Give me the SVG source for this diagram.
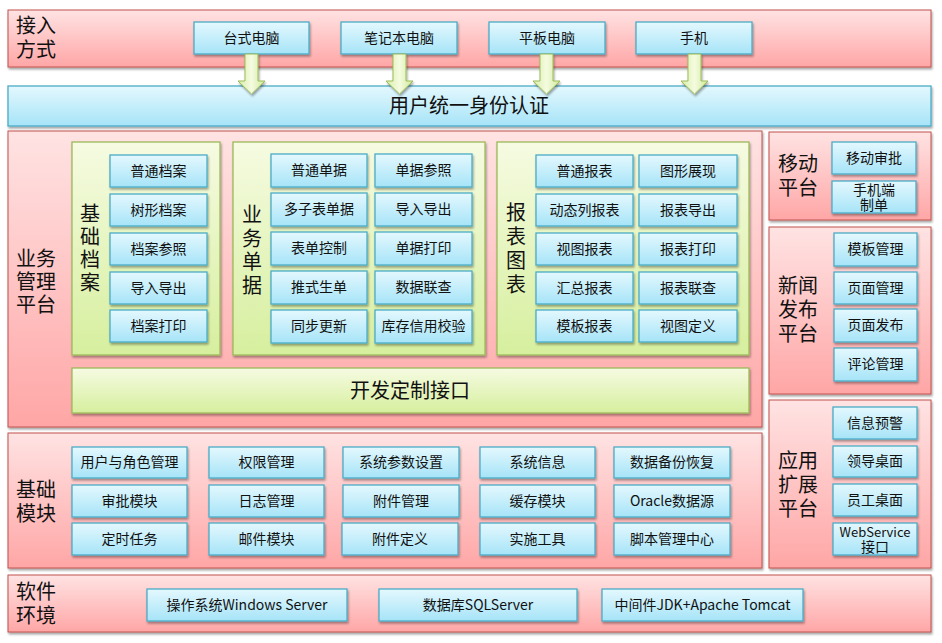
<svg xmlns="http://www.w3.org/2000/svg" width="942" height="643" viewBox="0 0 942 643">
<defs>
<linearGradient id="pk" x1="0" y1="0" x2="0" y2="1"><stop offset="0" stop-color="#FFE3E3"/><stop offset="1" stop-color="#FFA6A6"/></linearGradient>
<linearGradient id="bl" x1="0" y1="0" x2="0" y2="1"><stop offset="0" stop-color="#E4F8FE"/><stop offset="1" stop-color="#A6E4F8"/></linearGradient>
<linearGradient id="gr" x1="0" y1="0" x2="0" y2="1"><stop offset="0" stop-color="#F6FBE2"/><stop offset="1" stop-color="#D6EF9E"/></linearGradient>
<linearGradient id="ar" x1="0" y1="0" x2="1" y2="0"><stop offset="0" stop-color="#D8EFA8"/><stop offset="0.5" stop-color="#F4FBE0"/><stop offset="1" stop-color="#D0EB98"/></linearGradient>
<filter id="sh" x="-10%" y="-10%" width="130%" height="140%"><feDropShadow dx="1" dy="2" stdDeviation="1.2" flood-color="#000" flood-opacity="0.35"/></filter>
</defs>
<style>
text{font-family:"Noto Sans CJK SC","Microsoft YaHei","Liberation Sans",sans-serif;fill:#111}
.p{fill:url(#pk);stroke:#C0504D;stroke-width:1;filter:url(#sh)}
.b{fill:url(#bl);stroke:#4BACC6;stroke-width:1.3;filter:url(#sh)}
.g{fill:url(#gr);stroke:#9BBB59;stroke-width:1.3;filter:url(#sh)}
.t{font-size:14px;text-anchor:middle}
.s{font-size:13px}
.L{font-size:20px}
.V{font-size:20px;text-anchor:middle}
.M{font-size:20px;text-anchor:middle}
.a{fill:url(#ar);stroke:#9BBB59;stroke-width:1;filter:url(#sh)}
</style>

<g id="access">
<rect class="p" x="8" y="10" width="923" height="57"/>
<text class="L" x="16" y="33">接入<tspan x="16" dy="24">方式</tspan></text>
</g>
<g id="n-desktop"><rect class="b" x="194" y="22" width="115" height="32"/><text class="t" x="251.5" y="43">台式电脑</text></g>
<g id="n-laptop"><rect class="b" x="341" y="22" width="116" height="32"/><text class="t" x="399" y="43">笔记本电脑</text></g>
<g id="n-tablet"><rect class="b" x="489" y="22" width="116" height="32"/><text class="t" x="547" y="43">平板电脑</text></g>
<g id="n-phone"><rect class="b" x="636" y="22" width="116" height="32"/><text class="t" x="694" y="43">手机</text></g>

<g id="auth"><rect class="b" x="8" y="86" width="923" height="40"/><text class="M" x="469" y="113">用户统一身份认证</text></g>

<g id="biz">
<rect class="p" x="8" y="131" width="754" height="296"/>
<text class="L" x="16" y="266">业务<tspan x="16" dy="23">管理</tspan><tspan x="16" dy="23">平台</tspan></text>
</g>

<g id="archive">
<rect class="g" x="72" y="142" width="148" height="213"/>
<text class="V" x="90" y="221">基<tspan x="90" dy="23">础</tspan><tspan x="90" dy="23">档</tspan><tspan x="90" dy="23">案</tspan></text>
<g id="a1"><rect class="b" x="110" y="155" width="97" height="32"/><text class="t" x="158.5" y="176">普通档案</text></g>
<g id="a2"><rect class="b" x="110" y="194" width="97" height="32"/><text class="t" x="158.5" y="215">树形档案</text></g>
<g id="a3"><rect class="b" x="110" y="233" width="97" height="32"/><text class="t" x="158.5" y="254">档案参照</text></g>
<g id="a4"><rect class="b" x="110" y="272" width="97" height="32"/><text class="t" x="158.5" y="293">导入导出</text></g>
<g id="a5"><rect class="b" x="110" y="310" width="97" height="32"/><text class="t" x="158.5" y="331">档案打印</text></g>
</g>

<g id="bills">
<rect class="g" x="233" y="142" width="252" height="213"/>
<text class="V" x="252" y="222">业<tspan x="252" dy="23.5">务</tspan><tspan x="252" dy="23.5">单</tspan><tspan x="252" dy="23.5">据</tspan></text>
<g id="b1"><rect class="b" x="271" y="154" width="96" height="33"/><text class="t" x="319" y="175">普通单据</text></g>
<g id="b2"><rect class="b" x="271" y="193" width="96" height="33"/><text class="t" x="319" y="214">多子表单据</text></g>
<g id="b3"><rect class="b" x="271" y="232" width="96" height="33"/><text class="t" x="319" y="253">表单控制</text></g>
<g id="b4"><rect class="b" x="271" y="271" width="96" height="33"/><text class="t" x="319" y="292">推式生单</text></g>
<g id="b5"><rect class="b" x="271" y="310" width="96" height="33"/><text class="t" x="319" y="331">同步更新</text></g>
<g id="b6"><rect class="b" x="375" y="154" width="97" height="33"/><text class="t" x="423.5" y="175">单据参照</text></g>
<g id="b7"><rect class="b" x="375" y="193" width="97" height="33"/><text class="t" x="423.5" y="214">导入导出</text></g>
<g id="b8"><rect class="b" x="375" y="232" width="97" height="33"/><text class="t" x="423.5" y="253">单据打印</text></g>
<g id="b9"><rect class="b" x="375" y="271" width="97" height="33"/><text class="t" x="423.5" y="292">数据联查</text></g>
<g id="b10"><rect class="b" x="375" y="310" width="97" height="33"/><text class="t" x="423.5" y="331">库存信用校验</text></g>
</g>

<g id="reports">
<rect class="g" x="497" y="142" width="252" height="213"/>
<text class="V" x="516" y="220">报<tspan x="516" dy="24">表</tspan><tspan x="516" dy="24">图</tspan><tspan x="516" dy="24">表</tspan></text>
<g id="r1"><rect class="b" x="536" y="155" width="97" height="32"/><text class="t" x="584.5" y="176">普通报表</text></g>
<g id="r2"><rect class="b" x="536" y="194" width="97" height="32"/><text class="t" x="584.5" y="215">动态列报表</text></g>
<g id="r3"><rect class="b" x="536" y="233" width="97" height="32"/><text class="t" x="584.5" y="254">视图报表</text></g>
<g id="r4"><rect class="b" x="536" y="272" width="97" height="32"/><text class="t" x="584.5" y="293">汇总报表</text></g>
<g id="r5"><rect class="b" x="536" y="310" width="97" height="32"/><text class="t" x="584.5" y="331">模板报表</text></g>
<g id="r6"><rect class="b" x="639" y="155" width="98" height="32"/><text class="t" x="688" y="176">图形展现</text></g>
<g id="r7"><rect class="b" x="639" y="194" width="98" height="32"/><text class="t" x="688" y="215">报表导出</text></g>
<g id="r8"><rect class="b" x="639" y="233" width="98" height="32"/><text class="t" x="688" y="254">报表打印</text></g>
<g id="r9"><rect class="b" x="639" y="272" width="98" height="32"/><text class="t" x="688" y="293">报表联查</text></g>
<g id="r10"><rect class="b" x="639" y="310" width="98" height="32"/><text class="t" x="688" y="331">视图定义</text></g>
</g>

<g id="devapi"><rect class="g" x="72" y="368" width="677" height="45"/><text class="M" x="410" y="398">开发定制接口</text></g>

<g id="mobile">
<rect class="p" x="769" y="132" width="162" height="88"/>
<text class="L" x="778" y="171">移动<tspan x="778" dy="24">平台</tspan></text>
<g id="m1"><rect class="b" x="832" y="142" width="84" height="32"/><text class="t" x="874" y="163">移动审批</text></g>
<g id="m2"><rect class="b" x="832" y="181" width="84" height="32"/><text class="t" x="874" y="195">手机端<tspan x="874" dy="15">制单</tspan></text></g>
</g>

<g id="news">
<rect class="p" x="769" y="227" width="162" height="167"/>
<text class="L" x="778" y="293">新闻<tspan x="778" dy="24">发布</tspan><tspan x="778" dy="24">平台</tspan></text>
<g id="w1"><rect class="b" x="834" y="233" width="83" height="33"/><text class="t" x="875.5" y="254">模板管理</text></g>
<g id="w2"><rect class="b" x="834" y="272" width="83" height="32"/><text class="t" x="875.5" y="293">页面管理</text></g>
<g id="w3"><rect class="b" x="834" y="309" width="83" height="33"/><text class="t" x="875.5" y="330">页面发布</text></g>
<g id="w4"><rect class="b" x="834" y="348" width="83" height="33"/><text class="t" x="875.5" y="369">评论管理</text></g>
</g>

<g id="ext">
<rect class="p" x="769" y="400" width="162" height="168"/>
<text class="L" x="778" y="468">应用<tspan x="778" dy="24">扩展</tspan><tspan x="778" dy="24">平台</tspan></text>
<g id="e1"><rect class="b" x="833" y="407" width="84" height="32"/><text class="t" x="875" y="428">信息预警</text></g>
<g id="e2"><rect class="b" x="833" y="446" width="84" height="31"/><text class="t" x="875" y="466">领导桌面</text></g>
<g id="e3"><rect class="b" x="833" y="484" width="84" height="32"/><text class="t" x="875" y="505">员工桌面</text></g>
<g id="e4"><rect class="b" x="833" y="523" width="84" height="32"/><text class="t" x="875" y="537"><tspan class="s">WebService</tspan><tspan x="875" dy="15">接口</tspan></text></g>
</g>

<g id="base">
<rect class="p" x="8" y="433" width="754" height="135"/>
<text class="L" x="16" y="497">基础<tspan x="16" dy="24">模块</tspan></text>
<g id="c1"><rect class="b" x="72" y="447" width="115" height="31"/><text class="t" x="129.5" y="467">用户与角色管理</text></g>
<g id="c2"><rect class="b" x="209" y="447" width="115" height="31"/><text class="t" x="266.5" y="467">权限管理</text></g>
<g id="c3"><rect class="b" x="343" y="447" width="116" height="31"/><text class="t" x="401" y="467">系统参数设置</text></g>
<g id="c4"><rect class="b" x="480" y="447" width="115" height="31"/><text class="t" x="537.5" y="467">系统信息</text></g>
<g id="c5"><rect class="b" x="614" y="447" width="116" height="31"/><text class="t" x="672" y="467">数据备份恢复</text></g>
<g id="c6"><rect class="b" x="72" y="485" width="115" height="32"/><text class="t" x="129.5" y="506">审批模块</text></g>
<g id="c7"><rect class="b" x="209" y="485" width="115" height="32"/><text class="t" x="266.5" y="506">日志管理</text></g>
<g id="c8"><rect class="b" x="343" y="485" width="116" height="32"/><text class="t" x="401" y="506">附件管理</text></g>
<g id="c9"><rect class="b" x="480" y="485" width="115" height="32"/><text class="t" x="537.5" y="506">缓存模块</text></g>
<g id="c10"><rect class="b" x="614" y="485" width="116" height="32"/><text class="t" x="672" y="506">Oracle数据源</text></g>
<g id="c11"><rect class="b" x="72" y="523" width="115" height="32"/><text class="t" x="129.5" y="544">定时任务</text></g>
<g id="c12"><rect class="b" x="209" y="523" width="115" height="32"/><text class="t" x="266.5" y="544">邮件模块</text></g>
<g id="c13"><rect class="b" x="342" y="523" width="116" height="32"/><text class="t" x="400" y="544">附件定义</text></g>
<g id="c14"><rect class="b" x="480" y="523" width="115" height="32"/><text class="t" x="537.5" y="544">实施工具</text></g>
<g id="c15"><rect class="b" x="614" y="523" width="116" height="32"/><text class="t" x="672" y="544">脚本管理中心</text></g>
</g>

<g id="env">
<rect class="p" x="8" y="575" width="923" height="57"/>
<text class="L" x="16" y="599">软件<tspan x="16" dy="24">环境</tspan></text>
<g id="s1"><rect class="b" x="147" y="589" width="200" height="32"/><text class="t" x="247" y="610">操作系统Windows Server</text></g>
<g id="s2"><rect class="b" x="379" y="589" width="198" height="32"/><text class="t" x="478" y="610">数据库SQLServer</text></g>
<g id="s3"><rect class="b" x="602" y="589" width="201" height="32"/><text class="t" x="702.5" y="610">中间件JDK+Apache Tomcat</text></g>
</g>

<g id="connectors">
<path class="a" d="M245,54 H258 V81 H265 L251.5,94 L238,81 H245 Z"/>
<path class="a" d="M393,54 H406 V81 H413 L399.5,94 L386,81 H393 Z"/>
<path class="a" d="M540,54 H553 V81 H560 L546.5,94 L533,81 H540 Z"/>
<path class="a" d="M688,54 H701 V81 H708 L694.5,94 L681,81 H688 Z"/>
</g>
</svg>
